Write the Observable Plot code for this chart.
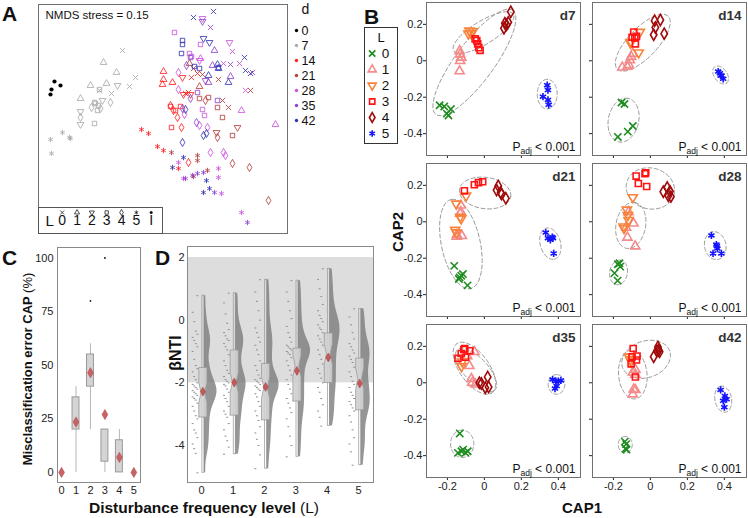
<!DOCTYPE html>
<html><head><meta charset="utf-8">
<script src="https://cdn.jsdelivr.net/npm/d3@7"></script>
<script src="https://cdn.jsdelivr.net/npm/@observablehq/plot@0.6"></script>
<style>
body{margin:0;background:#fff;}
#fig{position:relative;width:748px;height:518px;overflow:hidden;background:#fff;font-family:"Liberation Sans",Arial,sans-serif;}
</style></head><body><div id="fig"></div>
<script>
// ---------------- DATA ----------------
// Panel A: NMDS coordinates [level, NMDS1, NMDS2] per sampling day
const days = ["0","7","14","21","28","35","42"];
const nmdsDay0 = [["I",-1.06,0.39],["I",-1.00,0.35],["I",-1.09,0.31],["I",-1.10,0.26]];
const nmdsDay7 = [[0,-0.38,0.70],[0,-0.25,0.43],[0,-0.31,0.34],[0,-0.49,0.27],[0,-0.61,0.30],
 [1,-0.57,0.58],[1,-0.44,0.48],[1,-0.54,0.37],[1,-0.70,0.35],[1,-0.80,0.22],
 [2,-0.43,0.35],[2,-0.58,0.20],[2,-0.80,0.09],[2,-0.80,-0.04],
 [3,-0.61,0.31],[3,-0.66,0.18],[3,-0.62,0.15],[3,-0.63,0.10],[3,-0.66,-0.03],[3,-0.65,0.17],
 [4,-0.50,0.18],[4,-0.69,0.13],[4,-0.80,0.03],[4,-0.60,0.12],
 [5,-0.98,-0.12],[5,-0.90,-0.18],[5,-0.91,-0.17],[5,-1.10,-0.19],[5,-1.09,-0.33]];
const nmdsDay14 = [[0,0.31,0.43],[0,0.25,0.27],[0,0.37,0.47],[0,0.28,0.28],
 [1,0.03,0.49],[1,0.03,0.41],[1,0.02,0.36],[1,0.12,0.38],
 [2,0.22,0.43],[2,0.23,0.26],[2,0.30,0.26],
 [3,0.10,0.14],[3,0.20,0.14],[3,0.15,0.10],[3,0.11,-0.07],
 [4,0.10,0.15],[4,0.13,0.10],[4,0.17,0.03],[4,0.21,-0.07],[4,0.28,-0.42],
 [5,-0.19,-0.09],[5,-0.12,-0.13],[5,-0.03,-0.26],[5,0.03,-0.30],[5,0.18,-0.48]];
const nmdsDay21 = [[0,0.33,0.52],[0,0.42,0.46],[0,0.58,0.41],[0,0.62,0.20],[0,0.68,0.13],[0,0.90,0.30],
 [1,0.29,0.57],[1,0.39,0.34],
 [2,0.56,-0.12],[2,0.77,-0.07],
 [3,0.39,0.22],[3,0.48,0.23],[3,0.57,0.13],[3,0.62,0.03],[3,0.72,-0.15],
 [4,0.57,-0.17],[4,0.72,-0.43],[4,0.89,-0.47],[4,1.08,-0.80],[4,0.45,0.20],
 [5,0.11,-0.32],[5,0.37,-0.35],[5,0.37,-0.40],[5,0.47,-0.50],[5,0.33,-0.56]];
const nmdsDay28 = [[0,0.72,0.69],[0,0.63,0.57],[0,0.79,0.57],[0,0.85,0.30],
 [1,1.15,-0.04],[1,0.81,0.10],[1,0.40,0.62],
 [2,0.42,1.02],[2,0.39,0.60],[2,0.69,0.78],
 [3,0.14,0.88],[3,0.40,0.76],[3,0.29,0.67],[3,0.31,0.64],[3,0.42,0.11],[3,0.44,0.05],
 [4,0.18,0.48],[4,0.18,0.31],[4,0.24,0.06],[4,0.50,-0.32],[4,0.63,-0.32],[4,0.65,-0.35],[4,0.39,-0.05],[4,0.47,-0.07],
 [5,0.18,-0.42],[5,0.58,-0.48],[5,0.58,-0.57],[5,0.23,-0.58],[5,0.61,-0.73],[5,0.81,-0.92]];
const nmdsDay35 = [[0,0.50,0.93],[0,0.70,0.56],[0,0.92,0.48],
 [1,0.54,0.70],[1,0.52,0.55],[1,0.70,0.44],[1,0.48,0.38],
 [2,0.42,0.99],[2,0.45,0.40],
 [3,0.30,0.63],[3,0.37,0.28],[3,0.57,0.20],
 [4,0.26,0.55],[4,0.30,0.22],[4,0.22,0.12],[4,0.36,-0.02],
 [5,0.32,-0.55],[5,0.37,-0.53],[5,0.43,-0.52],[5,0.54,-0.72],[5,0.87,-1.02],[5,0.25,-0.58]];
const nmdsDay42 = [[0,0.33,1.03],[0,0.53,1.09],[0,0.84,0.63],[0,0.85,0.50],[0,0.90,0.47],
 [1,0.57,0.56],[1,0.58,0.52],[1,0.48,0.45],[1,0.68,0.38],
 [2,0.43,0.82],[2,0.49,0.78],
 [3,0.22,0.80],[3,0.22,0.76],[3,0.21,0.67],[3,0.39,0.52],[3,0.34,0.54],[3,0.58,0.53],
 [4,0.22,-0.22],[4,0.43,-0.15],[4,0.46,-0.13],[4,0.25,0.11],
 [5,0.23,-0.37],[5,0.12,-0.47],[5,0.46,-0.60],[5,0.49,-0.68],[5,0.43,-0.72]];
const nmdsStress = "NMDS stress = 0.15";

// Panel B: CAP scores [level, CAP1, CAP2] and group ellipses [cx, cy, semi-major, semi-minor, angle]
const capD7 = [[0,-0.242,-0.244],[0,-0.217,-0.251],[0,-0.181,-0.265],[0,-0.203,-0.290],[0,-0.194,-0.300],
 [1,-0.134,0.054],[1,-0.131,0.036],[1,-0.131,0.000],[1,-0.125,0.018],[1,-0.134,-0.057],
 [2,-0.081,0.165],[2,-0.072,0.152],[2,-0.086,0.149],[2,-0.063,0.161],
 [3,-0.050,0.120],[3,-0.041,0.111],[3,-0.036,0.093],[3,-0.030,0.072],[3,-0.023,0.057],
 [4,0.111,0.206],[4,0.120,0.197],[4,0.106,0.179],[4,0.143,0.269],[4,0.129,0.211],
 [5,0.340,-0.134],[5,0.344,-0.161],[5,0.317,-0.197],[5,0.344,-0.215],[5,0.348,-0.242]];
const ellD7 = [[-0.054,-0.009,0.353,0.105,54],[-0.005,0.155,0.19,0.063,32],[0.34,-0.183,0.081,0.054,90]];
const capD14 = [[0,-0.156,-0.229],[0,-0.140,-0.237],[0,-0.176,-0.418],[0,-0.122,-0.389],[0,-0.095,-0.358],
 [1,-0.111,0.004],[1,-0.104,0.022],[1,-0.095,0.039],[1,-0.116,-0.023],[1,-0.152,-0.036],[1,-0.125,-0.032],
 [2,-0.057,0.158],[2,-0.063,0.045],[2,-0.108,0.099],[2,-0.104,0.104],
 [3,-0.090,0.158],[3,-0.099,0.129],[3,-0.075,0.134],[3,-0.081,0.093],[3,-0.084,0.125],
 [4,0.023,0.220],[4,0.054,0.224],[4,0.027,0.183],[4,0.018,0.143],[4,0.075,0.149],
 [5,0.367,-0.059],[5,0.380,-0.081],[5,0.394,-0.099],[5,0.385,-0.081],[5,0.376,-0.068]];
const ellD14 = [[-0.041,0.099,0.2,0.08,47],[-0.145,-0.326,0.122,0.082,78],[0.38,-0.078,0.055,0.035,-55]];
const capD21 = [[0,-0.163,-0.242],[0,-0.134,-0.305],[0,-0.125,-0.296],[0,-0.116,-0.287],[0,-0.091,-0.349],[0,-0.138,-0.314],
 [1,-0.127,0.090],[1,-0.131,0.045],[1,-0.127,0.054],[1,-0.149,-0.072],[1,-0.122,-0.077],[1,-0.149,-0.081],
 [2,-0.152,0.099],[2,-0.131,0.027],[2,-0.125,0.018],[2,-0.158,-0.045],[2,-0.152,-0.059],[2,-0.099,0.143],
 [3,-0.108,0.170],[3,-0.054,0.203],[3,-0.032,0.215],[3,-0.009,0.220],
 [4,0.075,0.197],[4,0.066,0.174],[4,0.088,0.161],[4,0.116,0.129],[4,0.093,0.152],
 [5,0.332,-0.059],[5,0.344,-0.090],[5,0.357,-0.099],[5,0.371,-0.090],[5,0.375,-0.174],[5,0.367,-0.084]];
const ellD21 = [[-0.127,-0.122,0.25,0.105,102],[0.004,0.158,0.14,0.086,-8],[0.357,-0.12,0.088,0.055,-75]];
const capD28 = [[0,-0.176,-0.233],[0,-0.167,-0.228],[0,-0.194,-0.282],[0,-0.177,-0.323],[0,-0.163,-0.246],
 [1,-0.124,-0.086],[1,-0.091,-0.009],[1,-0.082,-0.134],[1,-0.131,-0.032],[1,-0.118,0.054],
 [2,-0.095,0.134],[2,-0.127,0.066],[2,-0.122,0.036],[2,-0.118,0.009],[2,-0.145,-0.027],[2,-0.142,-0.036],
 [3,-0.077,0.251],[3,-0.029,0.264],[3,-0.025,0.269],[3,-0.065,0.210],[3,-0.020,0.194],
 [4,0.070,0.165],[4,0.091,0.188],[4,0.106,0.167],[4,0.111,0.138],[4,0.097,0.143],
 [5,0.330,-0.075],[5,0.357,-0.125],[5,0.362,-0.147],[5,0.339,-0.174],[5,0.384,-0.174],[5,0.360,-0.134]];
const ellD28 = [[0,0.183,0.132,0.112,-15],[-0.106,-0.02,0.128,0.08,80],[-0.172,-0.278,0.068,0.048,80],[0.351,-0.131,0.077,0.058,100]];
const capD35 = [[0,-0.133,-0.278],[0,-0.124,-0.376],[0,-0.143,-0.385],[0,-0.115,-0.367],[0,-0.090,-0.376],[0,-0.102,-0.385],
 [1,-0.054,0.170],[1,-0.081,0.093],[1,-0.070,0.022],[1,-0.066,0.000],[1,-0.048,-0.009],[1,-0.093,0.147],
 [2,-0.124,0.090],[2,-0.120,0.116],
 [3,-0.143,0.134],[3,-0.125,0.161],[3,-0.102,0.140],[3,-0.079,0.176],[3,-0.111,0.183],[3,-0.106,0.188],
 [4,-0.027,0.000],[4,-0.016,-0.004],[4,0.005,-0.027],[4,0.018,0.032],[4,0.023,-0.023],
 [5,0.369,0.018],[5,0.387,0.009],[5,0.391,-0.018],[5,0.400,0.009],[5,0.382,-0.032],[5,0.414,0.013]];
const ellD35 = [[-0.054,0.08,0.165,0.08,-55],[-0.045,0.07,0.15,0.065,-48],[-0.12,-0.335,0.075,0.063,90],[0.39,-0.009,0.054,0.045,90]];
const capD42 = [[0,-0.138,-0.323],[0,-0.131,-0.337],[0,-0.129,-0.367],[0,-0.134,-0.362],
 [1,-0.095,0.057],[1,-0.081,0.045],[1,-0.081,0.072],[1,-0.090,-0.036],[1,-0.095,-0.063],[1,-0.081,-0.039],
 [2,-0.116,0.143],[2,-0.108,0.129],[2,-0.104,0.116],
 [3,-0.093,0.188],[3,-0.104,0.104],[3,-0.072,0.147],[3,-0.075,0.125],[3,-0.081,0.032],[3,-0.099,0.143],
 [4,0.041,0.197],[4,0.045,0.179],[4,0.050,0.170],[4,0.018,0.143],[4,0.036,0.176],
 [5,0.380,-0.039],[5,0.403,-0.072],[5,0.394,-0.099],[5,0.412,-0.090],[5,0.400,-0.134]];
const ellD42 = [[-0.023,0.129,0.135,0.1,20],[-0.095,0.045,0.134,0.077,95],[-0.136,-0.34,0.045,0.038,90],[0.394,-0.09,0.072,0.045,100]];
const capPanels = [["d7",capD7,ellD7],["d14",capD14,ellD14],["d21",capD21,ellD21],["d28",capD28,ellD28],["d35",capD35,ellD35],["d42",capD42,ellD42]];
const capP = "Padj < 0.001";

// Panel C: misclassification error (%) by disturbance level
const cLevels = [0,1,2,3,4,5];
const cQ1 = [0,20,40,5,0,0];
const cQ3 = [0,35,55,20,15,0];
const cLow = [0,0,20,0,0,0];
const cHigh = [0,40,60,20,20,0];
const cMean = [0,23.5,46.5,27,7,0];
const cOutLevel = [2,3];
const cOutValue = [80,100];

// Panel D: betaNTI by disturbance level
const dLevels = [0,1,2,3,4,5];
const dQ1 = [-3.09,-3.03,-3.18,-2.58,-1.99,-2.86];
const dQ3 = [-1.51,-0.95,-1.38,-0.89,-0.41,-1.21];
const dMedian = [-2.31,-1.99,-2.15,-1.46,-1.08,-1.87];
const dNotch = [0.32,0.32,0.35,0.35,0.33,0.35];
const dMin = [-4.87,-4.28,-4.74,-4.36,-3.38,-4.63];
const dMax = [0.78,0.86,1.29,1.26,1.64,0.36];
const dMean = [-2.28,-1.99,-2.13,-1.62,-1.19,-2.02];
const dBand = [-2, 2];
const dVals0 = [0.78,0.25,-0.05,-0.35,-0.45,-0.55,-0.65,-0.75,-0.85,-1.0,-1.25,-1.45,-1.55,-1.65,-1.8,-1.9,-2.0,-2.05,-2.1,-2.15,-2.2,-2.25,-2.3,-2.35,-2.4,-2.45,-2.5,-2.55,-2.65,-2.75,-2.9,-3.05,-3.15,-3.3,-3.5,-3.6,-3.75,-3.95,-4.1,-4.25,-4.87];
const dVals1 = [0.86,0.55,0.2,-0.1,-0.3,-0.4,-0.5,-0.6,-0.65,-0.75,-0.85,-0.95,-1.1,-1.3,-1.45,-1.6,-1.7,-1.8,-1.9,-1.95,-2.0,-2.05,-2.1,-2.2,-2.3,-2.4,-2.5,-2.6,-2.75,-2.9,-3.0,-3.1,-3.3,-3.5,-3.7,-3.85,-4.05,-4.28];
const dVals2 = [1.29,0.9,0.6,0.3,0.0,-0.25,-0.4,-0.55,-0.7,-0.8,-0.95,-1.1,-1.3,-1.45,-1.6,-1.75,-1.85,-1.9,-1.95,-2.0,-2.05,-2.1,-2.15,-2.2,-2.25,-2.35,-2.45,-2.6,-2.75,-2.9,-3.05,-3.2,-3.4,-3.6,-3.8,-4.0,-4.3,-4.74];
const dVals3 = [1.26,0.9,0.6,0.3,0.05,-0.2,-0.4,-0.55,-0.7,-0.8,-0.85,-0.9,-0.95,-1.0,-1.05,-1.1,-1.2,-1.3,-1.45,-1.6,-1.75,-1.9,-2.05,-2.2,-2.35,-2.5,-2.65,-2.8,-2.95,-3.15,-3.4,-3.7,-4.0,-4.36];
const dVals4 = [1.64,1.3,1.0,0.75,0.5,0.3,0.15,0.05,-0.05,-0.15,-0.25,-0.3,-0.4,-0.5,-0.6,-0.7,-0.8,-0.95,-1.1,-1.25,-1.4,-1.55,-1.7,-1.85,-2.0,-2.15,-2.3,-2.5,-2.7,-2.9,-3.1,-3.38];
const dVals5 = [0.36,0.1,-0.15,-0.4,-0.6,-0.75,-0.85,-0.95,-1.05,-1.15,-1.25,-1.35,-1.5,-1.65,-1.8,-1.95,-2.05,-2.15,-2.3,-2.4,-2.5,-2.6,-2.7,-2.8,-2.9,-3.05,-3.25,-3.5,-3.75,-3.95,-4.2,-4.63];
const dVals = [dVals0,dVals1,dVals2,dVals3,dVals4,dVals5];

// ---------------- STYLE / HELPERS ----------------
const FONT = '"Liberation Sans", Arial, sans-serif';
const fig = document.getElementById("fig");
function place(el, left, top) { el.style.position = "absolute"; el.style.left = left + "px"; el.style.top = top + "px"; el.style.maxWidth = "none"; fig.appendChild(el); return el; }
const baseStyle = {fontFamily: FONT, fontSize: "11px", color: "#222", background: "transparent", overflow: "visible"};
const triDown = {draw(context, size) { const s3 = Math.sqrt(3); const y = -Math.sqrt(size / (s3 * 3)); context.moveTo(0, -y * 2); context.lineTo(-s3 * y, y); context.lineTo(s3 * y, y); context.closePath(); }};
const L_SYMBOL = ["times", "triangle", triDown, "square", "diamond", "asterisk"];
const L_COLOR = ["#1f8c1f", "#f48a8a", "#f8823a", "#ff1414", "#a00a0a", "#1414ff"];
const dayColor = {"0":"#000000","7":"#aaaaaa","14":"#ff2020","21":"#b5403f","28":"#cc55dd","35":"#8e44cf","42":"#3535b5"};
const numFmt = d => String(Math.round(d * 10) / 10);

// ---------------- PANEL A ----------------
const nmds = [["0",nmdsDay0],["7",nmdsDay7],["14",nmdsDay14],["21",nmdsDay21],["28",nmdsDay28],["35",nmdsDay35],["42",nmdsDay42]]
  .flatMap(([day, arr]) => arr.map(([L, x, y]) => ({day, L: String(L), x, y})));
const aMarks = [Plot.frame({stroke: "#707070"}),
  Plot.text([nmdsStress], {frameAnchor: "top-left", dx: 7, dy: 6, lineAnchor: "top", textAnchor: "start", fontSize: 11.5, fill: "#111"})];
for (let i = 0; i < 6; i++) aMarks.push(Plot.dot(nmds.filter(d => d.L === String(i)), {x: "x", y: "y", symbol: L_SYMBOL[i], r: 2.5, stroke: d => dayColor[d.day], fill: "none", strokeWidth: 0.85}));
aMarks.push(Plot.dot(nmds.filter(d => d.L === "I"), {x: "x", y: "y", r: 2.1, fill: d => dayColor[d.day], stroke: "none"}));
place(Plot.plot({width: 251, height: 231, margin: 1, x: {domain: [-1.22, 1.27], axis: null}, y: {domain: [-1.13, 1.16], axis: null},
  color: {type: "identity"}, style: baseStyle, marks: aMarks}), 37, 3);

// A: level legend (inside, bottom-left) - box drawn as the svg border; items laid out with frame offsets
const aLevels = ["0","1","2","3","4","5","I"];
const aLegStep = 14.83, aLegStart = 22.7;
const aLegMarks = [Plot.text(["L"], {frameAnchor: "top-left", dx: 6, dy: 12.5, lineAnchor: "middle", textAnchor: "start", fontSize: 15, fill: "#111"})];
aLevels.forEach((lv, i) => {
  const dx = aLegStart + aLegStep * i;
  aLegMarks.push(Plot.text([lv], {frameAnchor: "top-left", dx, dy: 12.5, lineAnchor: "middle", textAnchor: "middle", fontSize: 14, fill: "#111"}));
  aLegMarks.push(i < 6
    ? Plot.dot([lv], {frameAnchor: "top-left", dx, dy: 4, symbol: L_SYMBOL[i], r: 1.9, stroke: "#222", fill: "none", strokeWidth: 0.8})
    : Plot.dot([lv], {frameAnchor: "top-left", dx, dy: 4, r: 1.5, fill: "#111"}));
});
const aLeg = Plot.plot({width: 123, height: 25, margin: 0, style: {...baseStyle, background: "white"}, marks: aLegMarks});
aLeg.style.border = "1px solid #555";
place(aLeg, 38, 207);

// A: day legend
place(Plot.plot({width: 45, height: 130, margin: 0, x: {domain: [0, 1], range: [6, 11], axis: null},
  y: {type: "point", domain: days, range: [27.5, 121.5], padding: 0, axis: null}, color: {type: "identity"}, style: baseStyle,
  marks: [
    Plot.dot(days, {x: 0, y: d => d, r: 1.7, fill: d => dayColor[d]}),
    Plot.text(days, {x: 1, y: d => d, text: d => d, textAnchor: "start", fontSize: 12.5, fill: "#111"}),
    Plot.text(["d"], {frameAnchor: "top-left", dx: 15, dy: 4, lineAnchor: "top", textAnchor: "middle", fontSize: 14, fill: "#111"})
  ]}), 290, 0);

// ---------------- PANEL B ----------------
function ellipsePoints(ells) {
  const out = [];
  ells.forEach(([cx, cy, a, b, deg], id) => {
    const th = deg * Math.PI / 180;
    for (let k = 0; k <= 80; k++) {
      const t = 2 * Math.PI * k / 80;
      out.push({id, x: cx + a * Math.cos(t) * Math.cos(th) - b * Math.sin(t) * Math.sin(th),
                    y: cy + a * Math.cos(t) * Math.sin(th) + b * Math.sin(t) * Math.cos(th)});
    }
  });
  return out;
}
const ns = "http://www.w3.org/2000/svg";
function subscriptP(svg) {
  svg.querySelectorAll("text").forEach(t => {
    if (t.textContent !== capP) return;
    while (t.firstChild) t.removeChild(t.firstChild);
    const s1 = document.createElementNS(ns, "tspan"); s1.textContent = "P";
    const s2 = document.createElementNS(ns, "tspan"); s2.textContent = "adj"; s2.setAttribute("font-size", "8.5"); s2.setAttribute("dy", "3");
    const s3 = document.createElementNS(ns, "tspan"); s3.textContent = " < 0.001"; s3.setAttribute("dy", "-3");
    t.append(s1, s2, s3);
  });
}
capPanels.forEach(([label, pts, ells], idx) => {
  const col = idx % 2, row = Math.floor(idx / 2);
  const left = col === 0 ? 426 : 592, top = [2, 163, 324][row];
  const mL = 30, mB = 20, mT = 1, mR = 1, W = 154, H = 153;
  const data = pts.map(([L, x, y]) => ({L, x, y}));
  const marks = [Plot.frame({stroke: "#707070"}),
    Plot.line(ellipsePoints(ells), {x: "x", y: "y", z: "id", stroke: "#9a9a9a", strokeWidth: 1, strokeDasharray: "4,2.5"})];
  for (let i = 0; i < 6; i++) marks.push(Plot.dot(data.filter(d => d.L === i), {x: "x", y: "y", symbol: L_SYMBOL[i], r: 3.4, stroke: L_COLOR[i], fill: "none", strokeWidth: 1.6}));
  marks.push(Plot.text([label], {frameAnchor: "top-right", dx: -5, dy: 8, lineAnchor: "top", textAnchor: "end", fontWeight: "bold", fontSize: 13.5, fill: "#333"}));
  marks.push(Plot.text([capP], {frameAnchor: "bottom-right", dx: -5, dy: -5, lineAnchor: "bottom", textAnchor: "end", fontSize: 12, fill: "#111"}));
  const svg = Plot.plot({width: mL + W + mR, height: mT + H + mB, marginLeft: mL, marginRight: mR, marginTop: mT, marginBottom: mB,
    x: {domain: [-0.313, 0.52], ticks: [-0.2, 0, 0.2, 0.4], tickFormat: row === 2 ? numFmt : () => "", tickSize: 3, tickPadding: 2, label: null},
    y: {domain: [-0.52, 0.32], ticks: [-0.4, -0.2, 0, 0.2], tickFormat: col === 0 ? numFmt : () => "", tickSize: 3, tickPadding: 1, label: null},
    style: baseStyle, marks});
  subscriptP(svg);
  place(svg, left - mL, top - mT);
});
// B: level legend
const bLevels = ["0","1","2","3","4","5"];
const bLegMarks = [Plot.frame({stroke: "#333", fill: "white"}),
  Plot.text(["L"], {frameAnchor: "top", dy: 5, lineAnchor: "top", textAnchor: "middle", fontSize: 13, fill: "#111"}),
  Plot.text(bLevels, {x: () => 1, y: d => d, text: d => d, fontSize: 13.5, fill: "#111"})];
for (let i = 0; i < 6; i++) bLegMarks.push(Plot.dot([String(i)], {x: () => 0, y: d => d, symbol: L_SYMBOL[i], r: 3, stroke: L_COLOR[i], fill: "none", strokeWidth: 1.6}));
place(Plot.plot({width: 35, height: 118, margin: 1, x: {domain: [0, 1], range: [8.7, 22], axis: null},
  y: {type: "point", domain: bLevels, range: [26.3, 107.3], padding: 0, axis: null}, style: baseStyle, marks: bLegMarks}), 363, 26);

// ---------------- PANEL C ----------------
const cRows = cLevels.map((L, i) => ({L, q1: cQ1[i], q3: cQ3[i], lo: cLow[i], hi: cHigh[i], mean: cMean[i]}));
const cOut = cOutLevel.map((L, i) => ({L, v: cOutValue[i]}));
place(Plot.plot({width: 114, height: 256, marginLeft: 30, marginRight: 1, marginTop: 1, marginBottom: 20,
  x: {domain: [-0.28, 5.46], ticks: cLevels, tickFormat: d => String(d), tickSize: 0, tickPadding: 4, label: null},
  y: {domain: [-4.7, 104.9], ticks: [0, 25, 50, 75, 100], tickFormat: d => String(d), tickSize: 0, tickPadding: 4, label: null},
  style: baseStyle,
  marks: [
    Plot.frame({stroke: "#8a8a8a"}),
    Plot.ruleX(cRows, {x: "L", y1: "lo", y2: "hi", stroke: "#b5b5b5", strokeWidth: 1}),
    Plot.rect(cRows, {x1: d => d.L - 0.24, x2: d => d.L + 0.24, y1: "q1", y2: "q3", fill: "#d4d4d4", stroke: "#999", strokeWidth: 1}),
    Plot.dot(cOut, {x: "L", y: "v", r: 0.9, fill: "#111"}),
    Plot.dot(cRows, {x: "L", y: "mean", symbol: "diamond", r: 3.1, fill: "#c96262", stroke: "#b04848", strokeWidth: 0.5})
  ]}), 27, 246);

// ---------------- PANEL D ----------------
const bw = 0.28;
const dens = dVals.map((vals, L) => {
  const lo = d3.min(vals), hi = d3.max(vals);
  return d3.range(lo, hi + 1e-9, 0.04).concat([hi]).map(y => ({L, y,
    d: d3.mean(vals, v => Math.exp(-0.5 * ((y - v) / bw) ** 2)) / (bw * Math.sqrt(2 * Math.PI))}));
});
const maxD = d3.max(dens.flat(), d => d.d);
const violin = dens.flat().map(p => ({L: p.L, y: p.y, w: p.d / maxD * 0.4}));
const dashes = dVals.flatMap((vals, L) => vals.map((v, i) => ({L, v, off: -0.15 - ((i * 3) % 4) * 0.05})));
const dRows = dLevels.map((L, i) => ({L, q1: dQ1[i], q3: dQ3[i], med: dMedian[i], n: dNotch[i], lo: dMin[i], hi: dMax[i], mean: dMean[i]}));
const notchPts = dRows.flatMap(r => {
  const c = r.L + 0.04, w = 0.13;
  return [[c - w, r.q1], [c - w, r.med - r.n], [c - w * 0.45, r.med], [c - w, r.med + r.n], [c - w, r.q3],
          [c + w, r.q3], [c + w, r.med + r.n], [c + w * 0.45, r.med], [c + w, r.med - r.n], [c + w, r.q1], [c - w, r.q1]]
    .map(([x, y]) => ({L: r.L, x, y}));
});
place(Plot.plot({width: 203, height: 257, marginLeft: 16, marginRight: 1, marginTop: 1, marginBottom: 20,
  x: {domain: [-0.45, 5.48], ticks: dLevels, tickFormat: d => String(d), tickSize: 0, tickPadding: 4, label: null},
  y: {domain: [-5.18, 2.35], ticks: [-4, -2, 0, 2], tickFormat: d => String(d), tickSize: 0, tickPadding: 3, label: null},
  style: baseStyle,
  marks: [
    Plot.rect([dBand], {y1: d => d[0], y2: d => d[1], fill: "#dddddd"}),
    Plot.frame({stroke: "#8a8a8a"}),
    Plot.ruleY(dashes, {y: "v", x1: d => d.L + d.off, x2: d => d.L + d.off + 0.06, stroke: "#8c8c8c", strokeWidth: 1}),
    Plot.rect(dRows, {x1: d => d.L + 0.025, x2: d => d.L + 0.09, y1: "lo", y2: "hi", fill: "none", stroke: "#a0a0a0", strokeWidth: 0.8}),
    Plot.areaX(violin, {y: "y", x1: d => d.L + 0.09, x2: d => d.L + 0.09 + d.w, z: "L", fill: "#7c7c7c", fillOpacity: 0.8}),
    Plot.line(notchPts, {x: "x", y: "y", z: "L", fill: "#d2d2d2", fillOpacity: 0.9, stroke: "#9a9a9a", strokeWidth: 0.8}),
    Plot.dot(dRows, {x: d => d.L + 0.04, y: "mean", symbol: "diamond", r: 2.7, fill: "#c85858", stroke: "#a03c3c", strokeWidth: 0.5})
  ]}), 171, 245);

// ---------------- TITLES / PANEL LETTERS ----------------
const ov = d3.create("svg").attr("width", 748).attr("height", 518)
  .style("position", "absolute").style("left", "0px").style("top", "0px")
  .style("pointer-events", "none").style("overflow", "visible").style("font-family", FONT).attr("fill", "#111");
[["A", 2, 21], ["B", 364, 24], ["C", 2, 265], ["D", 155, 265]].forEach(([t, x, y]) =>
  ov.append("text").attr("x", x).attr("y", y).attr("font-size", 21).attr("font-weight", "bold").text(t));
ov.append("text").attr("x", 582).attr("y", 513).attr("text-anchor", "middle").attr("font-size", 15).attr("font-weight", "bold").text("CAP1");
ov.append("text").attr("transform", "translate(403,232) rotate(-90)").attr("text-anchor", "middle").attr("font-size", 15).attr("font-weight", "bold").text("CAP2");
const xl = ov.append("text").attr("x", 204).attr("y", 513).attr("text-anchor", "middle").attr("font-size", 15.5);
xl.append("tspan").attr("font-weight", "bold").text("Disturbance frequency level ");
xl.append("tspan").text("(L)");
const yl = ov.append("text").attr("transform", "translate(32,369) rotate(-90)").attr("text-anchor", "middle").attr("font-size", 13);
yl.append("tspan").attr("font-weight", "bold").text("Misclassification error CAP ");
yl.append("tspan").text("(%)");
ov.append("text").attr("transform", "translate(181,353) rotate(-90)").attr("text-anchor", "middle").attr("font-size", 16).attr("font-weight", "bold").text("βNTI");
fig.appendChild(ov.node());
</script></body></html>
